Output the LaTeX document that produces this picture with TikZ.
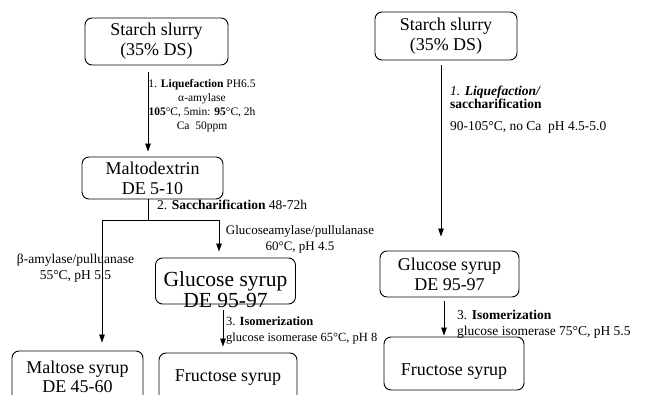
\documentclass[tikz,border=0pt]{standalone}
\usepackage{fontspec}
\setmainfont{Liberation Serif}
\usepackage{tikz}
\usetikzlibrary{arrows.meta,positioning,calc}
\newcommand{\boxfont}{\fontsize{18}{20}\selectfont}
\newcommand{\bigboxfont}{\fontsize{21.5}{21}\selectfont}
\newcommand{\notefont}{\fontsize{13.5}{16}\selectfont}
\newcommand{\tinynote}{\fontsize{11.5}{14}\selectfont}

\begin{document}
\begin{tikzpicture}[x=1pt, y=-1pt,
  procbox/.style={draw, rounded corners=7pt, line width=0.9pt, align=center, font=\boxfont, inner sep=0pt},
  flow/.style={-{Triangle[length=8pt,width=5.5pt]}, line width=0.8pt},
  note/.style={font=\notefont, align=left, inner sep=0pt}]
\useasboundingbox (0,0) rectangle (648,394);
% ---------- left route: liquefaction, then saccharification ----------
\node[procbox, minimum width=143pt, minimum height=47pt] (startL) at (156.5,41.5) {Starch slurry\\(35\% DS)};
\node[procbox, minimum width=141pt, minimum height=42pt] (maltoL) at (152.5,178) {Maltodextrin\\DE 5-10};
\node[procbox, minimum width=140pt, minimum height=46pt,
      label={[font=\bigboxfont, align=center, yshift=-9pt]center:{Glucose syrup\\DE 95-97}}] (glucL) at (225.5,281) {};
\node[procbox, minimum width=131pt, minimum height=52pt, font=\fontsize{18}{19}\selectfont] (maltoseL) at (77.5,377) {Maltose syrup\\DE 45-60};
\node[procbox, minimum width=138pt, minimum height=50pt] (fructL) at (228,378) {Fructose syrup};
% ---------- right route: one-step liquefaction/saccharification ----------
\node[procbox, minimum width=142pt, minimum height=48pt] (startR) at (446,36) {Starch slurry\\(35\% DS)};
\node[procbox, minimum width=139pt, minimum height=46pt] (glucR) at (449.5,274) {Glucose syrup\\DE 95-97};
\node[procbox, minimum width=140pt, minimum height=53pt, text height=26pt, text depth=3pt] (fructR) at (454,363.5) {Fructose syrup};
% ---------- process conditions ----------
\node[note, font=\tinynote, align=center, anchor=north] (liqL) at (202,79) {1. \textbf{Liquefaction} PH6.5\\α-amylase\\\textbf{105}°C, 5min: \textbf{95}°C, 2h\\Ca\ \ 50ppm};
\node[note, anchor=base west] (sacL) at (157,209) {2. \textbf{Saccharification} 48-72h};
\node[note, align=center, anchor=north] (betaL) at (75.5,254) {β-amylase/pulluanase\\55°C, pH 5.5};
\node[note, font=\fontsize{13}{16}\selectfont, align=center, anchor=north] (gaL) at (300,225) {Glucoseamylase/pullulanase\\60°C, pH 4.5};
\node[note, font=\fontsize{12.5}{16}\selectfont, anchor=north west] (isoL) at (226,317) {3. \textbf{Isomerization}\\glucose isomerase 65°C, pH 8};
\node[note, font=\fontsize{13.5}{13}\selectfont, anchor=north west] (liqR) at (450,86) {\textit{1. \textbf{Liquefaction/}}\\\textbf{saccharification}\\[9pt]90-105°C, no Ca\ \ pH 4.5-5.0};
\node[note, anchor=north west] (isoR) at (457,310) {3. \textbf{Isomerization}\\glucose isomerase 75°C, pH 5.5};
% ---------- connectors ----------
\coordinate (colA) at (148,0);
\coordinate (colB) at (223,0);
\coordinate (colC) at (441,0);
\coordinate (colD) at (444,0);
\coordinate (jn) at (148,220);
\coordinate (jl) at (102,220);
\coordinate (jr) at (219,220);
\draw[flow, shorten <=7pt, shorten >=5pt] (startL.south -| colA) -- (maltoL.north -| colA);
\draw[line width=0.8pt] (maltoL.south -| colA) -- (jn);
\draw[flow, shorten >=8pt] (jn) -- (jl) -- (maltoseL.north -| jl);
\draw[flow, shorten >=6pt] (jn) -- (jr) -- (glucL.north -| jr);
\draw[flow, shorten <=6pt, shorten >=6pt] (glucL.south -| colB) -- (fructL.north -| colB);
\draw[flow, shorten <=5pt, shorten >=14pt] (startR.south -| colC) -- (glucR.north -| colC);
\draw[flow, shorten <=4pt, shorten >=1pt] (glucR.south -| colD) -- (fructR.north -| colD);
\end{tikzpicture}
\end{document}
